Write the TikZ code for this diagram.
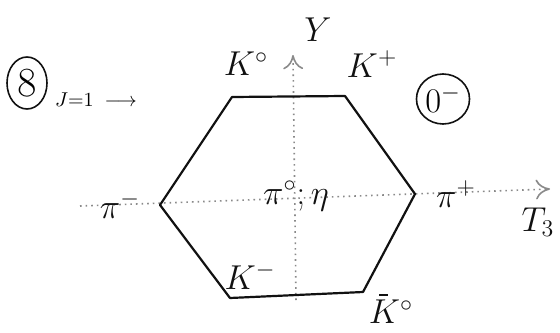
\documentclass[tikz,border=0pt]{standalone}
\usepackage{amsmath,amssymb}
\usetikzlibrary{arrows.meta,positioning,shapes.geometric}
\definecolor{ink}{HTML}{111111}
\definecolor{gridc}{HTML}{8A8A8A}
\tikzset{
  edge/.style={ink,line width=1.1pt,line join=round},
  axis/.style={gridc,dotted,thick,-{To[length=2.5mm,width=3.5mm]}},
  lbl/.style={font=\LARGE,ink},
  slbl/.style={font=\large,ink},
  ring/.style={ellipse,draw=ink,thick,inner sep=0.5pt,font=\LARGE},
}
\begin{document}
\begin{tikzpicture}[x=0.5pt,y=-0.5pt]
  \useasboundingbox (0,0) rectangle (560,332);
  % ===================== axes =====================
  \coordinate (tl) at (80,206);
  \coordinate (tr) at (550,189);
  \coordinate (yb) at (296,300);
  \coordinate (yt) at (293,55);
  \draw[axis] (tl) -- (tr);
  \draw[axis] (yb) -- (yt);
  \node[lbl] (ylab) at (318,30) {$Y$};
  \node[lbl] (tlab) at (538,222) {$T_3$};
  % ===================== hexagon =====================
  \coordinate (kz) at (232,97);
  \coordinate (kp) at (345,96);
  \coordinate (pp) at (415,194);
  \coordinate (kzb) at (363,292);
  \coordinate (km) at (230,298);
  \coordinate (pm) at (160,205);
  \draw[edge] (kz) -- (kp) -- (pp) -- (kzb) -- (km) -- (pm) -- cycle;
  % ===================== particles =====================
  \node[lbl] (kzlab) at (246,64) {$K^{\circ}$};
  \node[lbl] (kplab) at (372,64) {$K^{+}$};
  \node[lbl] (pmlab) at (120,205) {$\pi^{-}$};
  \node[lbl] (pplab) at (456,194) {$\pi^{+}$};
  \node[lbl] (pzlab) at (296,196) {$\pi^{\circ};\eta$};
  \node[lbl] (kmlab) at (250,276) {$K^{-}$};
  \node[lbl] (kzblab) at (391,312) {$K^{\circ}$};
  \draw[ink,thick] ([xshift=-6pt,yshift=-1pt]kzblab.north) -- ++(9,0);
  % ===================== multiplet =====================
  \node[ring,font=\huge,minimum width=20pt,minimum height=26pt] (oct) at (27,83) {$8$};
  \node[font=\normalsize,anchor=west] (jlab) at (48,100) {$J{=}1\;\longrightarrow$};
  \node[ring,minimum width=26pt,minimum height=25pt] (jp) at (443,99) {$0^{-}$};
\end{tikzpicture}
\end{document}
